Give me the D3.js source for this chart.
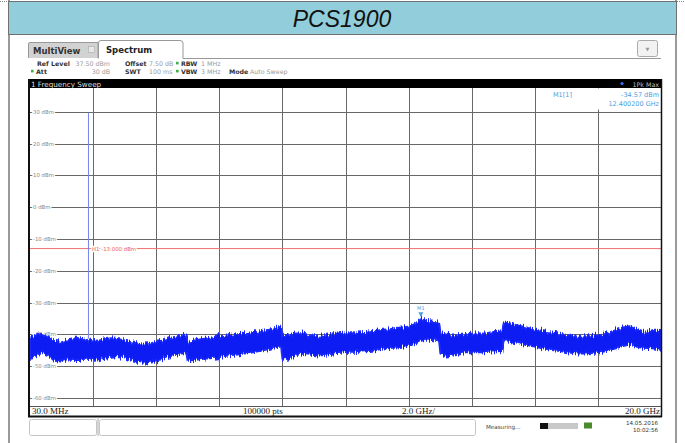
<!DOCTYPE html>
<html><head><meta charset="utf-8">
<script src="https://cdn.jsdelivr.net/npm/d3@7/dist/d3.min.js"></script>
<style>html,body{margin:0;padding:0;background:#fff;}svg{display:block;}</style>
</head><body>
<svg id="c" width="685" height="443"></svg>
<script>
// ---- data ----
const titleText = "PCS1900";
const freqGHz = [0.03,0.2,0.4,0.6,0.8,1.0,1.2,1.4,1.6,1.8,2.0,2.2,2.4,2.6,2.8,3.0,3.2,3.4,3.6,3.8,4.0,4.2,4.4,4.6,4.8,4.98,
5.02,5.2,5.4,5.6,5.8,6.0,6.2,6.4,6.6,6.8,7.0,7.2,7.4,7.6,7.8,7.98,
8.02,8.2,8.4,8.6,8.8,9.0,9.2,9.4,9.6,9.8,10.0,10.2,10.4,10.6,10.8,11.0,11.2,11.4,11.6,11.8,12.0,12.2,12.4,12.6,12.8,12.98,
13.02,13.2,13.4,13.6,13.8,14.0,14.2,14.4,14.6,14.8,14.98,
15.02,15.2,15.4,15.6,15.8,16.0,16.2,16.4,16.6,16.8,17.0,17.2,17.4,17.6,17.8,18.0,18.2,18.4,18.6,18.8,19.0,19.2,19.4,19.6,19.8,20.0];
const upperDbm = [-41.0,-40.5,-39.8,-40.6,-42.0,-42.3,-41.6,-41.2,-41.6,-41.3,-41.8,-42.0,-41.5,-41.2,-41.4,-41.8,-42.4,-42.8,-43.2,-43.0,-42.4,-42.0,-41.3,-40.8,-40.3,-40.0,
-42.2,-42.0,-41.6,-41.3,-40.9,-40.6,-40.4,-40.1,-39.9,-39.7,-39.4,-39.2,-38.8,-38.5,-38.0,-37.6,
-40.6,-40.4,-39.8,-39.6,-40.0,-40.5,-40.7,-40.5,-40.0,-39.6,-39.4,-39.3,-39.4,-39.2,-39.0,-38.8,-38.5,-38.4,-38.0,-37.8,-37.6,-36.8,-35.2,-35.8,-36.0,-36.3,
-39.6,-40.0,-40.3,-40.2,-40.0,-39.8,-39.6,-39.8,-39.4,-39.2,-39.0,
-36.2,-36.5,-37.0,-37.5,-38.0,-38.4,-38.8,-39.2,-39.5,-39.8,-40.2,-40.5,-40.7,-40.6,-40.5,-40.3,-40.0,-39.2,-38.6,-37.8,-37.4,-38.4,-39.2,-39.0,-38.5,-38.6];
const lowerDbm = [-47.3,-47.0,-45.8,-46.5,-48.3,-48.5,-47.8,-48.0,-48.0,-47.6,-48.0,-47.8,-47.3,-47.0,-46.8,-47.1,-47.8,-48.5,-48.9,-48.7,-48.2,-47.8,-47.0,-46.5,-46.0,-45.8,
-48.3,-48.0,-47.8,-47.6,-47.4,-47.2,-46.8,-46.5,-46.3,-46.0,-45.8,-45.4,-45.0,-44.6,-44.0,-43.8,
-48.0,-47.6,-46.8,-46.0,-46.3,-46.5,-46.6,-46.4,-46.0,-45.8,-45.5,-45.4,-45.5,-45.3,-45.2,-44.9,-44.4,-44.3,-44.1,-43.9,-43.6,-43.0,-42.0,-41.6,-41.8,-42.2,
-46.0,-46.6,-46.4,-46.0,-45.6,-45.5,-45.6,-45.6,-45.4,-45.3,-45.2,
-41.8,-42.0,-42.5,-43.0,-43.4,-43.8,-44.3,-44.6,-45.0,-45.2,-45.5,-45.8,-46.0,-46.0,-45.8,-45.7,-45.4,-44.8,-44.3,-43.6,-43.2,-43.8,-44.2,-44.3,-44.4,-44.8];
const carrierFreqGHz = [1.88];
const carrierDbm = [29.6];
const carrierBaseDbm = [-41.3];
const yTickDbm = [30,20,10,0,-10,-20,-30,-40,-50,-60];
const yTickLabels = ["30 dBm","20 dBm","10 dBm","0 dBm","-10 dBm","-20 dBm","-30 dBm","-40 dBm","-50 dBm","-60 dBm"];
const refLevel = 37.5, bottomLevel = -62.5;
const startGHz = 0.03, stopGHz = 20.0;
const limitDbm = -13.0, limitLabel = "H1  -13.000 dBm";
const markerFreqGHz = 12.4002, markerDbm = -34.57;
const xAxisLabels = ["30.0 MHz","100000 pts","2.0 GHz/","20.0 GHz"];

// ---- drawing ----
const svg = d3.select("#c");
const W = 685, H = 443;
const defs = svg.append("defs");
defs.html(`<filter id="jag" x="-2%" y="-60%" width="104%" height="220%">
 <feTurbulence type="fractalNoise" baseFrequency="0.85 0.04" numOctaves="2" seed="7" result="n"/>
 <feColorMatrix in="n" type="matrix" values="1 0 0 0 0  0 0 0 0 0.5  0 0 0 0 0  0 0 0 0 1" result="m"/>
 <feDisplacementMap in="SourceGraphic" in2="m" scale="10" xChannelSelector="G" yChannelSelector="R"/>
</filter>`);
svg.append("rect").attr("width",W).attr("height",H).attr("fill","#fff");

// outer frame
svg.append("line").attr("x1",9).attr("x2",9).attr("y1",0).attr("y2",H).attr("stroke","#9a9a9a").attr("stroke-width",2);
svg.append("line").attr("x1",676).attr("x2",676).attr("y1",0).attr("y2",H).attr("stroke","#9a9a9a").attr("stroke-width",2);
svg.append("line").attr("x1",0).attr("x2",8).attr("y1",1.5).attr("y2",1.5).attr("stroke","#888").attr("stroke-dasharray","1,1");
svg.append("line").attr("x1",677).attr("x2",685).attr("y1",1.5).attr("y2",1.5).attr("stroke","#888").attr("stroke-dasharray","1,1");
svg.append("rect").attr("x",8.5).attr("y",1.5).attr("width",668).attr("height",33).attr("fill","#92cddb").attr("stroke","#707070").attr("stroke-width",1);
svg.append("text").attr("x",342).attr("y",27).attr("text-anchor","middle")
  .attr("font-family","Liberation Sans, Arial, sans-serif").attr("font-style","italic")
  .attr("font-size",23).attr("fill","#111").text(titleText);

const sans = "DejaVu Sans, Verdana, sans-serif";
// tabs
svg.append("path").attr("d","M28.5,58 L28.5,44 Q28.5,42.5 30,42.5 L98,42.5 L98,58").attr("fill","#d2d2d2").attr("stroke","#999");
svg.append("text").attr("x",33).attr("y",54).attr("font-family",sans).attr("font-weight","bold").attr("font-size",8.5).attr("fill","#333").text("MultiView");
svg.append("rect").attr("x",88.5).attr("y",46.5).attr("width",6).attr("height",6).attr("fill","#e8e8e8").attr("stroke","#aaa").attr("stroke-width",0.6);
svg.append("path").attr("d","M98.5,58.5 L98.5,43 Q98.5,40.5 101,40.5 L180,40.5 Q183,40.5 183,43 L183,58.5 L661,58.5")
  .attr("fill","#fff").attr("stroke","#999");
svg.append("text").attr("x",106).attr("y",53).attr("font-family",sans).attr("font-weight","bold").attr("font-size",8.5).attr("fill","#222").text("Spectrum");
svg.append("rect").attr("x",637.5).attr("y",40.5).attr("width",20).attr("height",16).attr("rx",2).attr("fill","#f2f2f2").attr("stroke","#aaa");
svg.append("text").attr("x",647.5).attr("y",51).attr("text-anchor","middle").attr("font-family",sans).attr("font-size",5).attr("fill","#999").text("▼");

// header info rows
const hdr = svg.append("g").attr("font-family",sans).attr("font-size",6.3);
function ht(x,y,t,col,bold,anchor){hdr.append("text").attr("x",x).attr("y",y).attr("fill",col).attr("font-weight",bold?"bold":"normal").attr("text-anchor",anchor||"start").text(t);}
ht(37,66,"Ref Level","#333",true); ht(110,66,"37.50 dBm","#999",false,"end");
ht(125,66,"Offset","#333",true); ht(149,66,"7.50 dB","#999");
ht(181,66,"RBW","#333",true); ht(201,66,"1 MHz","#999");
ht(36,74,"Att","#333",true); ht(110,74,"30 dB","#999",false,"end");
ht(125,74,"SWT","#333",true); ht(149,74,"100 ms","#999");
ht(181,74,"VBW","#333",true); ht(201,74,"3 MHz","#999");
ht(229,74,"Mode","#333",true); ht(250,74,"Auto Sweep","#999");
[[176,64],[31,72],[176,72]].forEach(p=>hdr.append("rect").attr("x",p[0]).attr("y",p[1]-2.2).attr("width",2.6).attr("height",2.6).attr("fill","#3fae49"));

// plot frame
const L = 30, R = 661, T = 88, B = 406;
svg.append("rect").attr("x",28).attr("y",79).attr("width",634).attr("height",9).attr("fill","#000");
svg.append("text").attr("x",31).attr("y",86.5).attr("font-family",sans).attr("font-size",7.2).attr("fill","#ddd").text("1 Frequency Sweep");
svg.append("circle").attr("cx",622).attr("cy",83.5).attr("r",1.6).attr("fill","#3a6cff");
svg.append("text").attr("x",659).attr("y",86.5).attr("text-anchor","end").attr("font-family",sans).attr("font-size",6.3).attr("fill","#bbb").text("1Pk Max");

const x = d3.scaleLinear().domain([startGHz, stopGHz]).range([L, R]);
const y = d3.scaleLinear().domain([bottomLevel, refLevel]).range([B, T]);

const grid = svg.append("g");
d3.range(1,10).forEach(i=>{
  const gx = Math.round(x(startGHz + i*(stopGHz-startGHz)/10))+0.5;
  grid.append("line").attr("x1",gx).attr("x2",gx).attr("y1",T).attr("y2",B).attr("stroke","#686868").attr("stroke-width",1);
});
yTickDbm.forEach((v,i)=>{
  const gy = Math.round(y(v))+0.5;
  grid.append("line").attr("x1",L).attr("x2",R).attr("y1",gy).attr("y2",gy).attr("stroke","#686868").attr("stroke-width",1);
});

// marker readout box
svg.append("rect").attr("x",545).attr("y",88.5).attr("width",115).attr("height",21).attr("fill","#fff");
const mcol = "#4aa0e2";
svg.append("text").attr("x",553).attr("y",97).attr("font-family",sans).attr("font-size",6.5).attr("fill",mcol).text("M1[1]");
svg.append("text").attr("x",659).attr("y",97).attr("text-anchor","end").attr("font-family",sans).attr("font-size",6.5).attr("fill",mcol).text(markerDbm.toFixed(2)+" dBm");
svg.append("text").attr("x",659).attr("y",106).attr("text-anchor","end").attr("font-family",sans).attr("font-size",6.5).attr("fill",mcol).text("12.400200 GHz");

// y labels
yTickDbm.forEach((v,i)=>{
  svg.append("text").attr("x",33).attr("y",y(v)+2).attr("font-family",sans).attr("font-size",5.4)
    .attr("fill","#8a8a8a").attr("stroke","#fff").attr("stroke-width",2.5).attr("paint-order","stroke").text(yTickLabels[i]);
});

// limit line
svg.append("line").attr("x1",L).attr("x2",R).attr("y1",y(limitDbm)).attr("y2",y(limitDbm)).attr("stroke","#ee7070").attr("stroke-width",1);
svg.append("text").attr("x",92).attr("y",y(limitDbm)+2).attr("font-family",sans).attr("font-size",5.4)
  .attr("fill","#ee6060").attr("stroke","#fff").attr("stroke-width",2.5).attr("paint-order","stroke").text(limitLabel);

// carrier spike
carrierFreqGHz.forEach((f,i)=>{
  svg.append("line").attr("x1",x(f)).attr("x2",x(f)).attr("y1",y(carrierDbm[i])).attr("y2",y(carrierBaseDbm[i]))
    .attr("stroke","#7582ee").attr("stroke-width",1);
});

// trace band
const pts = freqGHz.map((f,i)=>({f, hi:upperDbm[i], lo:lowerDbm[i]}));
const area = d3.area().x(d=>x(d.f)).y0(d=>y(d.lo)).y1(d=>y(d.hi));
const band = svg.append("g").attr("clip-path","url(#plotclip)");
defs.append("clipPath").attr("id","plotclip").append("rect").attr("x",L).attr("y",T).attr("width",R-L).attr("height",B-T);
band.append("path").datum(pts).attr("d",area).attr("fill","#0c1cf2").attr("stroke","#1a2cff").attr("stroke-width",2)
  .attr("stroke-linejoin","round").attr("filter","url(#jag)");

// marker
const mx = x(markerFreqGHz), my = y(markerDbm);
svg.append("path").attr("d",`M${mx-2.5},${my-5} L${mx+2.5},${my-5} L${mx},${my} Z`).attr("fill",mcol);
svg.append("text").attr("x",mx).attr("y",my-7).attr("text-anchor","middle").attr("font-family",sans).attr("font-size",5).attr("fill",mcol).text("M1");

// frame borders
svg.append("line").attr("x1",29).attr("x2",29).attr("y1",79).attr("y2",417).attr("stroke","#111").attr("stroke-width",2);
svg.append("line").attr("x1",661.5).attr("x2",661.5).attr("y1",79).attr("y2",417).attr("stroke","#111").attr("stroke-width",1.5);
svg.append("line").attr("x1",L).attr("x2",R).attr("y1",B+0.5).attr("y2",B+0.5).attr("stroke","#555").attr("stroke-width",1);
svg.append("line").attr("x1",28).attr("x2",662).attr("y1",416.5).attr("y2",416.5).attr("stroke","#111").attr("stroke-width",2);

// x labels
const serif = "Liberation Serif, Times New Roman, serif";
const xl = svg.append("g").attr("font-family",serif).attr("font-size",9).attr("fill","#222");
xl.append("text").attr("x",32).attr("y",414).text(xAxisLabels[0]);
xl.append("text").attr("x",243).attr("y",414).text(xAxisLabels[1]);
xl.append("text").attr("x",402).attr("y",414).text(xAxisLabels[2]);
xl.append("text").attr("x",660).attr("y",414).attr("text-anchor","end").text(xAxisLabels[3]);

// status bar
svg.append("rect").attr("x",29.5).attr("y",419.5).attr("width",67).attr("height",16).attr("rx",2).attr("fill","#fff").attr("stroke","#c4c4c4");
svg.append("rect").attr("x",99.5).attr("y",419.5).attr("width",376).attr("height",16).attr("rx",2).attr("fill","#fff").attr("stroke","#c4c4c4");
svg.append("line").attr("x1",98).attr("x2",98).attr("y1",417).attr("y2",436).attr("stroke","#aaa");
svg.append("text").attr("x",486).attr("y",429).attr("font-family",sans).attr("font-size",5.6).attr("fill","#444").text("Measuring...");
svg.append("rect").attr("x",540).attr("y",423).attr("width",8).attr("height",6).attr("fill","#111");
svg.append("rect").attr("x",548).attr("y",423).attr("width",30).attr("height",6).attr("fill","#c8c8c8");
svg.append("rect").attr("x",584).attr("y",422.5).attr("width",8).attr("height",6).attr("fill","#4a8a2a");
svg.append("text").attr("x",658).attr("y",424.5).attr("text-anchor","end").attr("font-family",sans).attr("font-size",5.6).attr("fill","#333").text("14.05.2016");
svg.append("text").attr("x",658).attr("y",432).attr("text-anchor","end").attr("font-family",sans).attr("font-size",5.6).attr("fill","#333").text("10:02:56");
</script>
</body></html>
